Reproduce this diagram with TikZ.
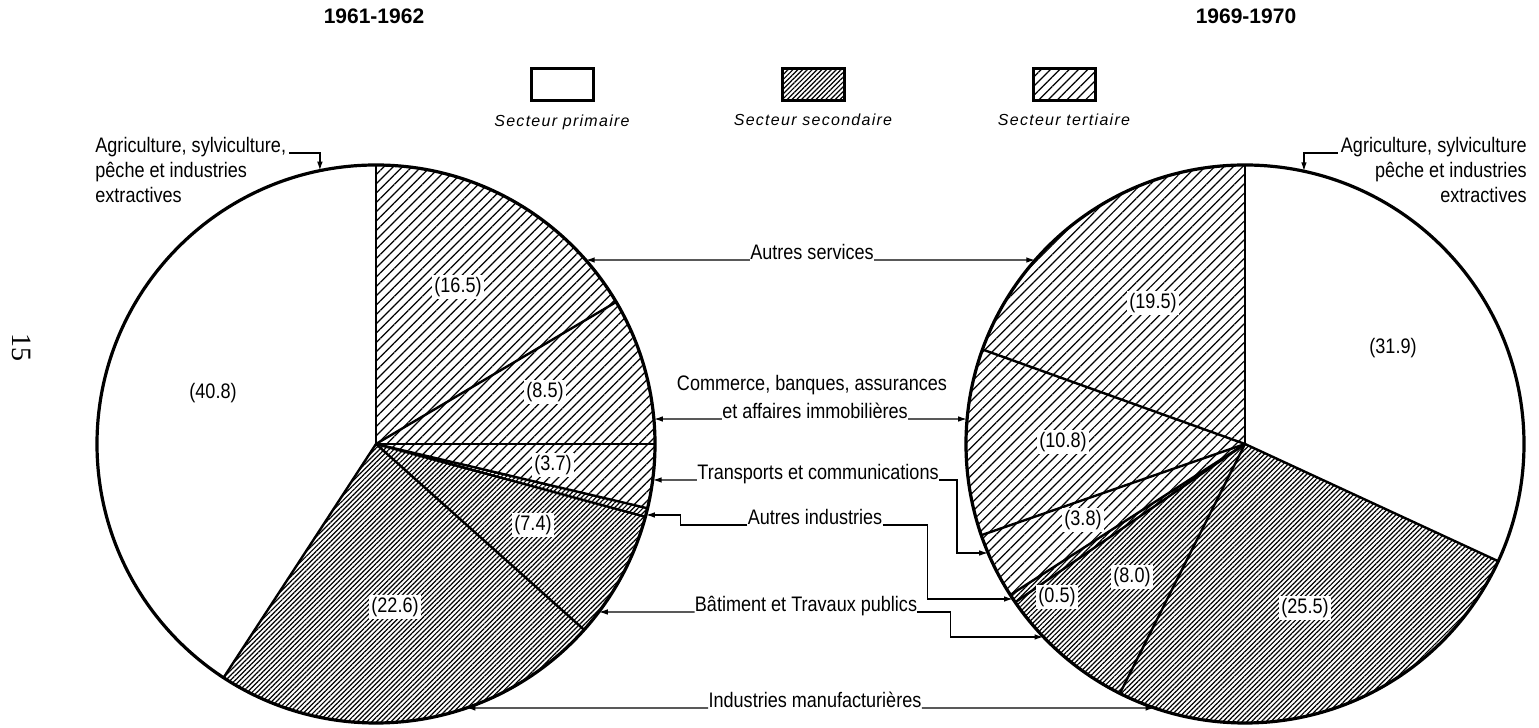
\documentclass[tikz,border=0pt]{standalone}
\usepackage{fontspec}
\setmainfont{Liberation Sans}
\newfontfamily\labfont{Liberation Sans}[FakeStretch=0.86]
\newfontfamily\legfont{Liberation Sans}[LetterSpace=8]
\newfontfamily\pagefont{Liberation Serif}
\usetikzlibrary{patterns.meta,arrows.meta,positioning,calc}

\tikzset{
  lbl/.style={font=\fontsize{10.5pt}{12.5pt}\labfont,inner sep=0pt},
  pct/.style={font=\fontsize{10.5pt}{10.5pt}\labfont,fill=white,inner sep=1pt},
  legtxt/.style={font=\fontsize{8pt}{9pt}\legfont\itshape,inner sep=0pt},
  legbox/.style={draw,line width=1.5pt,minimum width=31pt,minimum height=16pt,inner sep=0pt},
  leader/.style={line width=0.7pt,-{Latex[length=4.5pt,width=2.8pt]}},
  tert/.style={pattern={Lines[angle=45,distance=3.3pt,line width=0.6pt]}},
  seco/.style={pattern={Lines[angle=45,distance=1.7pt,line width=0.6pt]}},
}

\begin{document}
\begin{tikzpicture}[x=0.5pt,y=0.5pt]
                  \useasboundingbox (0,0) rectangle (1539,728);
                  \coordinate (cL) at (376,284);
                  \coordinate (cR) at (1245,284);
                  % titles
                  \node (yearL) [font=\fontsize{10.5pt}{12pt}\bfseries] at (374,712) {1961-1962};
                  \node (yearR) [font=\fontsize{10.5pt}{12pt}\bfseries] at (1246,712) {1969-1970};
                  % page number
                  \node (page) [rotate=-90,font=\fontsize{14pt}{14pt}\pagefont] at (22,380) {15};
                  % legend
                  \node (boxP) [legbox] at (562,643) {};
                  \node (boxS) [legbox,seco] at (813,643) {};
                  \node (boxT) [legbox,tert] at (1064,643) {};
                  \node (legP) [legtxt,below=6pt of boxP] {Secteur primaire};
                  \node (legS) [legtxt,below=6pt of boxS] {Secteur secondaire};
                  \node (legT) [legtxt,below=6pt of boxT] {Secteur tertiaire};
                  % left pie 1961-1962
                  \fill [tert] (cL) -- ++(90:279) arc[start angle=90,end angle=-13.32,radius=279] -- cycle;
                  \fill [seco] (cL) -- ++(-13.32:279) arc[start angle=-13.32,end angle=-123.12,radius=279] -- cycle;
                  \draw [line width=1.2pt] (cL) -- ++(90:279);
                  \draw [line width=1.2pt] (cL) -- ++(30.6:279);
                  \draw [line width=1.2pt] (cL) -- ++(0:279);
                  \draw [line width=1.2pt] (cL) -- ++(-13.32:279);
                  \draw [line width=1.2pt] (cL) -- ++(-15.12:279);
                  \draw [line width=1.2pt] (cL) -- ++(-41.76:279);
                  \draw [line width=1.2pt] (cL) -- ++(-123.12:279);
                  \draw [line width=1.6pt] (cL) circle[radius=279];
                  \node (p408) [pct] at (213,335) {(40.8)};
                  \node (p165) [pct] at (458,441) {(16.5)};
                  \node (p85) [pct] at (545,336) {(8.5)};
                  \node (p37) [pct] at (553,263) {(3.7)};
                  \node (p74) [pct] at (533,203) {(7.4)};
                  \node (p226) [pct] at (395,121) {(22.6)};
                  % right pie 1969-1970
                  \fill [seco] (cR) -- ++(-24.84:279) arc[start angle=-24.84,end angle=-147.24,radius=279] -- cycle;
                  \fill [tert] (cR) -- ++(-147.24:279) arc[start angle=-147.24,end angle=-270,radius=279] -- cycle;
                  \draw [line width=1.2pt] (cR) -- ++(90:279);
                  \draw [line width=1.2pt] (cR) -- ++(-24.84:279);
                  \draw [line width=1.2pt] (cR) -- ++(-116.64:279);
                  \draw [line width=1.2pt] (cR) -- ++(-145.44:279);
                  \draw [line width=1.2pt] (cR) -- ++(-147.24:279);
                  \draw [line width=1.2pt] (cR) -- ++(-160.92:279);
                  \draw [line width=1.2pt] (cR) -- ++(160.2:279);
                  \draw [line width=1.6pt] (cR) circle[radius=279];
                  \node (p319) [pct] at (1393,380) {(31.9)};
                  \node (p195) [pct] at (1153,425) {(19.5)};
                  \node (p108) [pct] at (1063,286) {(10.8)};
                  \node (p38) [pct] at (1083,208) {(3.8)};
                  \node (p80) [pct] at (1132,151) {(8.0)};
                  \node (p05) [pct] at (1057,131) {(0.5)};
                  \node (p255) [pct] at (1305,120) {(25.5)};
                  % agriculture left
                  \node (agriL) [lbl,anchor=north west,align=left] at (95,591) {Agriculture, sylviculture,\\pêche et industries\\extractives};
                  \coordinate (agriLtip) at ($(cL)+(101.6:279)$);
                  \draw [leader] ($(agriL.north east)+(3,-16)$) -| (agriLtip);
                  % agriculture right
                  \node (agriR) [lbl,anchor=north east,align=right] at (1527,591) {Agriculture, sylviculture\\pêche et industries\\extractives};
                  \coordinate (agriRtip) at ($(cR)+(77.8:279)$);
                  \draw [leader] ($(agriR.north west)+(-3,-16)$) -| (agriRtip);
                  % autres services
                  \node (svc) [lbl,anchor=base] at (812,468) {Autres services};
                  \coordinate (svcL) at ($(cL)+(41.26:279)$);
                  \coordinate (svcR) at ($(cR)+(138.74:279)$);
                  \draw [leader] (svc.base west) -- (svcL);
                  \draw [leader] (svc.base east) -- (svcR);
                  % commerce
                  \node (comB) [lbl,anchor=base] at (815,309) {et affaires immobilières};
                  \node (comA) [lbl,anchor=base] at (812,337) {Commerce, banques, assurances};
                  \coordinate (comL) at ($(cL)+(5.14:279)$);
                  \coordinate (comR) at ($(cR)+(174.86:279)$);
                  \draw [leader] (comB.base west) -- (comL);
                  \draw [leader] (comB.base east) -- (comR);
                  % transports
                  \node (trans) [lbl,anchor=base] at (818,248) {Transports et communications};
                  \coordinate (transL) at ($(cL)+(-7.41:279)$);
                  \coordinate (transR) at ($(cR)+(203.0:279)$);
                  \draw [leader] (trans.base west) -- (transL);
                  \draw [leader] (trans.base east) -- ++(18,0) |- (transR);
                  % autres industries
                  \node (ind) [lbl,anchor=base] at (815,203) {Autres industries};
                  \coordinate (indL) at ($(cL)+(-14.74:279)$);
                  \coordinate (indR) at ($(cR)+(213.75:279)$);
                  \draw [leader] (ind.base west) -- ++(-67,0) |- (indL);
                  \draw [leader] (ind.base east) -- ++(45,0) |- (indR);
                  % batiment
                  \node (bat) [lbl,anchor=base] at (806,116) {Bâtiment et Travaux publics};
                  \coordinate (batL) at ($(cL)+(-37.02:279)$);
                  \coordinate (batR) at ($(cR)+(223.77:279)$);
                  \draw [leader] (bat.base west) -- (batL);
                  \draw [leader] (bat.base east) -- ++(33,0) |- (batR);
                  % industries manufacturieres
                  \node (manu) [lbl,anchor=base] at (815,20) {Industries manufacturières};
                  \coordinate (manuL) at ($(cL)+(-71.1:279)$);
                  \coordinate (manuR) at ($(cR)+(251.1:279)$);
                  \draw [leader] (manu.base west) -- (manuL);
                  \draw [leader] (manu.base east) -- (manuR);
\end{tikzpicture}
\end{document}
